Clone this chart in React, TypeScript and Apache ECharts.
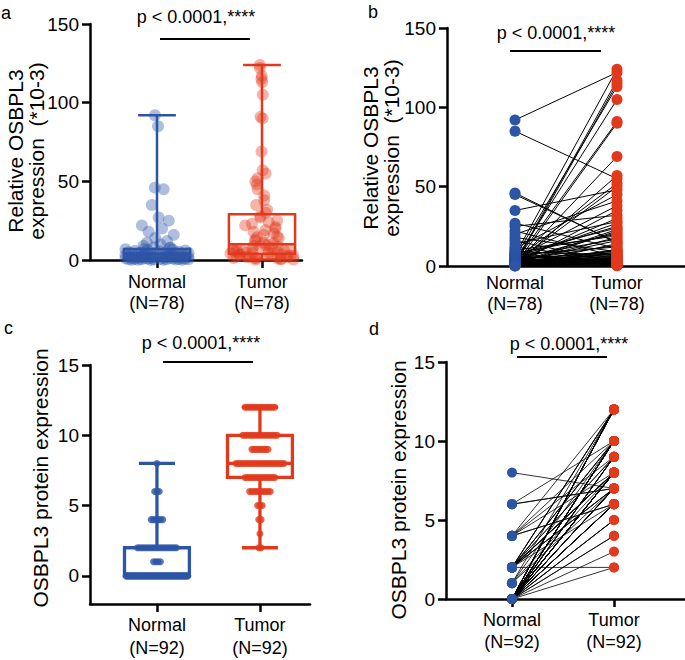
import React, { useEffect, useRef } from 'react';
import * as echarts from 'echarts';

// ---------- data ----------
// Relative OSBPL3 expression (*10-3), paired by patient (index)
const exprNormal = [92, 85, 46, 45, 35, 27, 25, 22, 20, 18, 16, 14, 12, 11, 10, 9, 8, 8, 7.5, 7, 6.8, 6.5, 6.2, 6, 5.8, 5.5, 5.3, 5, 4.8, 4.6, 4.5, 4.3, 4.2, 4.1, 4, 3.9, 3.8, 3.6, 3.5, 3.4, 3.2, 3.0, 2.9, 2.8, 2.6, 2.5, 2.4, 2.2, 2.0, 1.9, 1.8, 1.7, 1.6, 1.5, 1.4, 1.3, 1.3, 1.2, 1.2, 1.1, 1.0, 0.9, 0.9, 0.8, 0.7, 0.7, 0.6, 0.5, 0.5, 0.4, 0.4, 0.3, 0.3, 0.2, 0.2, 0.1, 0.1, 0.05];
const exprTumor = [122, 55, 14.5, 15, 48, 11, 32, 6, 41, 9, 2.5, 28, 3.5, 45, 19, 7, 20, 1.5, 24, 12, 124, 0.9, 4.5, 25, 3.1, 113, 17, 6.5, 38, 2.1, 8.5, 27, 0.5, 52, 9.5, 5.4, 21, 1.1, 105, 13, 4.2, 30, 7.5, 2.9, 91, 16, 6.2, 50, 3.7, 18, 0.3, 117, 8, 23, 4.9, 35, 2.7, 69, 9.8, 1.9, 22, 5.1, 115, 6.8, 3.3, 57, 10.5, 1.3, 90, 4.7, 14, 8.8, 0.7, 5.7, 3.9, 2.3, 1.7, 0.1];

// OSBPL3 protein expression score, paired by patient (index)
const proteinNormal = [
  8,
  6, 6, 6,
  4, 4, 4, 4, 4, 4,
  2, 2, 2, 2, 2, 2, 2, 2, 2, 2, 2, 2, 2, 2, 2, 2, 2, 2,
  1, 1, 1, 1,
  0, 0, 0, 0, 0, 0, 0, 0, 0, 0, 0, 0, 0, 0, 0, 0, 0, 0, 0, 0,
  0, 0, 0, 0, 0, 0, 0, 0, 0, 0, 0, 0, 0, 0, 0, 0, 0, 0, 0, 0,
  0, 0, 0, 0, 0, 0, 0, 0, 0, 0, 0, 0, 0, 0, 0, 0, 0, 0, 0, 0,
];
const proteinTumor = [
  7,
  10, 7, 7,
  6, 8, 10, 6, 12, 9,
  2, 8, 8, 9, 10, 12, 6, 7, 8, 10, 12, 7, 8, 9, 10, 12, 8, 7,
  8, 10, 12, 7,
  2, 3, 4, 4, 5, 5, 5, 6, 6, 6, 6, 6, 6, 6, 7, 7, 7, 7, 7, 7, 7, 8, 8, 8,
  8, 8, 8, 8, 8, 8, 8, 8, 8, 8, 8, 8, 9, 9, 9, 9, 9, 10, 10, 10, 10, 10, 10,
  10, 10, 10, 10, 12, 12, 12, 12, 12, 12, 12, 12, 12,
];

// box statistics [min, Q1, median, Q3, max]
const exprBoxNormal = [0, 1.2, 4, 7, 92];
const exprBoxTumor = [0.3, 4, 10, 29, 124];
const proteinBoxNormal = [0, 0, 0, 2, 8];
const proteinBoxTumor = [2, 7, 8, 10, 12];

const groupLabels78 = ['Normal\n(N=78)', 'Tumor\n(N=78)'];
const groupLabels92 = ['Normal\n(N=92)', 'Tumor\n(N=92)'];
const groupPositions = [0, 1];
const pLabel = 'p < 0.0001,****';
const exprTitle = 'Relative OSBPL3\nexpression  (*10-3)';
const proteinTitle = 'OSBPL3 protein expression';
const panelLetters = ['a', 'b', 'c', 'd'];

// ---------- styling ----------
const FONT = '"Liberation Sans", Arial, Helvetica, sans-serif';
const BLUE = '#2c55a6';
const RED = '#e2391d';
const AXIS_W = 2.5;

const JITTER = [-1, 0.5, -0.3, 0.9, -0.7, 0.1, 0.7, -0.9, 0.3, -0.5, 1, -0.1, 0.6, -0.6, 0.2, -0.8, 0.8, -0.2, 0.4, -0.4];
function exprSpread(v: number) {
  return v < 8 ? 0.3 : v < 30 ? 0.16 : v < 60 ? 0.07 : 0.02;
}
function jitterExpr(values: number[], x0: number) {
  return values.map((v, i) => [x0 + JITTER[i % JITTER.length] * exprSpread(v), v]);
}
function jitterProtein(values: number[], x0: number) {
  const counts: Record<string, number> = {};
  const seen: Record<string, number> = {};
  values.forEach((v) => (counts[v] = (counts[v] || 0) + 1));
  return values.map((v) => {
    const n = counts[v];
    const k = (seen[v] = (seen[v] ?? -1) + 1);
    const w = Math.min(0.6, 0.0223 * (n - 1));
    const off = n > 1 ? (k / (n - 1) - 0.5) * w : 0;
    return [x0 + off, v];
  });
}

function xAxis(gi: number, min: number, max: number, labels: string[], ticks: boolean, margin: number, lh: number) {
  return {
    gridIndex: gi,
    type: 'value',
    min,
    max,
    axisLine: { show: true, onZero: false, lineStyle: { color: '#000', width: AXIS_W } },
    axisTick: { show: ticks, customValues: groupPositions, length: 8, lineStyle: { color: '#000', width: AXIS_W } },
    axisLabel: {
      customValues: groupPositions,
      formatter: (v: number) => labels[Math.round(v)] ?? '',
      fontSize: 18,
      lineHeight: lh,
      color: '#000',
      fontFamily: FONT,
      margin,
    },
    splitLine: { show: false },
  };
}

function yAxis(gi: number, min: number, max: number, interval: number | null, custom: number[] | null) {
  const ax: any = {
    gridIndex: gi,
    type: 'value',
    min,
    max,
    axisLine: { show: true, onZero: false, lineStyle: { color: '#000', width: AXIS_W } },
    axisTick: { show: true, length: 8, lineStyle: { color: '#000', width: AXIS_W } },
    axisLabel: { fontSize: 19, color: '#000', fontFamily: FONT, margin: 11 },
    splitLine: { show: false },
  };
  if (interval != null) ax.interval = interval;
  if (custom) {
    ax.axisTick.customValues = custom;
    ax.axisLabel.customValues = custom;
  }
  return ax;
}

function boxSeries(gi: number, stats: number[][], colors: string[], lineW: number, boxW: number, capW: number) {
  return {
    type: 'custom',
    xAxisIndex: gi,
    yAxisIndex: gi,
    z: 5,
    silent: true,
    data: stats.map((s, i) => [groupPositions[i], ...s]),
    encode: { x: 0, y: [1, 2, 3, 4, 5] },
    renderItem: (params: any, api: any) => {
      const x = api.value(0);
      const [mn, q1, md, q3, mx] = [1, 2, 3, 4, 5].map((d) => api.value(d));
      const c = (v: number) => api.coord([x, v]);
      const half = api.size([boxW, 0])[0] / 2;
      const capHalf = api.size([capW, 0])[0] / 2;
      const pMin = c(mn), pQ1 = c(q1), pMd = c(md), pQ3 = c(q3), pMx = c(mx);
      const cx = pMin[0];
      const st = { stroke: colors[params.dataIndex], lineWidth: lineW, fill: 'none' };
      return {
        type: 'group',
        children: [
          { type: 'line', shape: { x1: cx, y1: pMx[1], x2: cx, y2: pQ3[1] }, style: st },
          { type: 'line', shape: { x1: cx, y1: pQ1[1], x2: cx, y2: pMin[1] }, style: st },
          { type: 'line', shape: { x1: cx - capHalf, y1: pMx[1], x2: cx + capHalf, y2: pMx[1] }, style: st },
          { type: 'line', shape: { x1: cx - capHalf, y1: pMin[1], x2: cx + capHalf, y2: pMin[1] }, style: st },
          { type: 'rect', shape: { x: cx - half, y: pQ3[1], width: 2 * half, height: pQ1[1] - pQ3[1] }, style: st },
          { type: 'line', shape: { x1: cx - half, y1: pMd[1], x2: cx + half, y2: pMd[1] }, style: st },
        ],
      };
    },
  };
}

function pairSeries(gi: number, a: number[], b: number[], width: number) {
  return {
    type: 'custom',
    xAxisIndex: gi,
    yAxisIndex: gi,
    z: 2,
    silent: true,
    data: a.map((v, i) => [groupPositions[0], v, groupPositions[1], b[i]]),
    encode: { x: [0, 2], y: [1, 3] },
    renderItem: (params: any, api: any) => {
      const p1 = api.coord([api.value(0), api.value(1)]);
      const p2 = api.coord([api.value(2), api.value(3)]);
      return {
        type: 'line',
        shape: { x1: p1[0], y1: p1[1], x2: p2[0], y2: p2[1] },
        style: { stroke: '#000', lineWidth: width },
      };
    },
  };
}

function scatter(gi: number, data: number[][], color: string, size: number, opacity: number, z = 3) {
  return {
    type: 'scatter',
    xAxisIndex: gi,
    yAxisIndex: gi,
    z,
    silent: true,
    data,
    symbol: 'circle',
    symbolSize: size,
    itemStyle: { color, opacity },
  };
}

function txt(x: number, y: number, text: string, size: number, align = 'center', rotation = 0, lineHeight?: number) {
  return {
    type: 'text',
    x,
    y,
    rotation,
    silent: true,
    style: {
      text,
      fill: '#000',
      font: `${size}px ${FONT}`,
      fontSize: size,
      fontFamily: FONT,
      align,
      verticalAlign: 'middle',
      lineHeight: lineHeight ?? size * 1.2,
    },
  };
}
function hline(x1: number, x2: number, y: number) {
  return { type: 'line', silent: true, shape: { x1, y1: y, x2, y2: y }, style: { stroke: '#000', lineWidth: 1.8 } };
}

export default function App() {
  const ref = useRef<HTMLDivElement>(null);
  useEffect(() => {
    if (!ref.current) return;
    const chart = echarts.init(ref.current, null, { renderer: 'svg' });
    const option: any = {
      animation: false,
      backgroundColor: '#fff',
      grid: [
        { left: 90, top: 24, width: 212, height: 236, outerBoundsMode: 'none' },
        { left: 447, top: 28, width: 238, height: 238, outerBoundsMode: 'none' },
        { left: 90, top: 365, width: 220, height: 239, outerBoundsMode: 'none' },
        { left: 446, top: 362, width: 239, height: 237, outerBoundsMode: 'none' },
      ],
      xAxis: [
        xAxis(0, -0.638, 1.381, groupLabels78, true, 11, 21),
        xAxis(1, -0.667, 1.667, groupLabels78, false, 6, 21),
        xAxis(2, -0.65, 1.486, groupLabels92, true, 9, 23),
        xAxis(3, -0.647, 1.696, groupLabels92, true, 10, 22),
      ],
      yAxis: [
        yAxis(0, 0, 150, 50, null),
        yAxis(1, 0, 150, 50, null),
        yAxis(2, -2, 15, null, [0, 5, 10, 15]),
        yAxis(3, 0, 15, 5, null),
      ],
      series: [
        // panel a
        scatter(0, jitterExpr(exprNormal, groupPositions[0]), BLUE, 12, 0.38),
        scatter(0, jitterExpr(exprTumor, groupPositions[1]), RED, 12, 0.38),
        boxSeries(0, [exprBoxNormal, exprBoxTumor], [BLUE, RED], 2.5, 0.63, 0.36),
        // panel b
        pairSeries(1, exprNormal, exprTumor, 1),
        scatter(1, exprNormal.map((v) => [groupPositions[0], v]), BLUE, 11, 1, 4),
        scatter(1, exprTumor.map((v) => [groupPositions[1], v]), RED, 11, 1, 4),
        // panel c
        scatter(2, jitterProtein(proteinNormal, groupPositions[0]), BLUE, 7, 0.8),
        scatter(2, jitterProtein(proteinTumor, groupPositions[1]), RED, 7, 0.8),
        boxSeries(2, [proteinBoxNormal, proteinBoxTumor], [BLUE, RED], 3.3, 0.63, 0.35),
        // panel d
        pairSeries(3, proteinNormal, proteinTumor, 0.8),
        scatter(3, proteinNormal.map((v) => [groupPositions[0], v]), BLUE, 10, 1, 4),
        scatter(3, proteinTumor.map((v) => [groupPositions[1], v]), RED, 10, 1, 4),
      ],
      graphic: [
        txt(1, 13, panelLetters[0], 18, 'left'),
        txt(368, 12, panelLetters[1], 18, 'left'),
        txt(4, 328, panelLetters[2], 18, 'left'),
        txt(369, 329, panelLetters[3], 18, 'left'),
        txt(196, 16.5, pLabel, 18),
        txt(556, 33, pLabel, 18),
        txt(201, 342.5, pLabel, 18),
        txt(569, 344, pLabel, 18),
        hline(160, 250, 39),
        hline(510, 601, 51),
        hline(163, 253, 362),
        hline(517, 607, 357),
        txt(26, 151, exprTitle, 21, 'center', Math.PI / 2, 21),
        txt(381, 148, exprTitle, 21, 'center', Math.PI / 2, 21),
        txt(40, 478, proteinTitle, 21, 'center', Math.PI / 2),
        txt(398, 490, proteinTitle, 21, 'center', Math.PI / 2),
      ],
    };
    chart.setOption(option);
    return () => chart.dispose();
  }, []);
  return <div ref={ref} style={{ position: 'absolute', left: 0, top: 0, width: 685, height: 660 }} />;
}
